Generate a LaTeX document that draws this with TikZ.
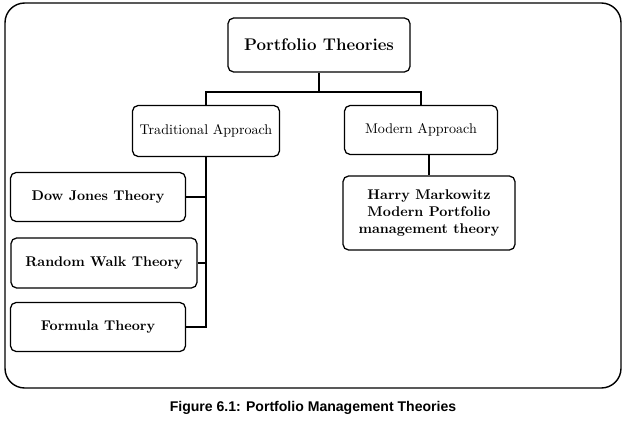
\documentclass[tikz,border=0pt]{standalone}
\usepackage{fontspec}
\newfontfamily\capfont{Liberation Sans}
\usetikzlibrary{positioning}
\tikzset{
  box/.style={draw, line width=0.9pt, rounded corners=4pt, align=center, inner sep=0pt},
  link/.style={line width=1.6pt}
}
\begin{document}
\begin{tikzpicture}[x=0.025cm, y=-0.025cm]
   \useasboundingbox (0,0) rectangle (624,421);
   \draw[line width=1pt, rounded corners=14pt] (5,3) rectangle (621,388);

   \node[box, minimum width=182*0.025cm, minimum height=54*0.025cm, font=\large\bfseries] (top) at (319,45) {Portfolio Theories};
   \node[box, minimum width=147*0.025cm, minimum height=51*0.025cm] (trad) at (206,131) {Traditional Approach};
   \node[box, minimum width=153*0.025cm, minimum height=49*0.025cm] (mod) at (421,130) {Modern Approach};
   \node[box, minimum width=172*0.025cm, minimum height=74*0.025cm, font=\bfseries] (harry) at (429,213) {Harry Markowitz\\Modern Portfolio\\management theory};
   \node[box, minimum width=175*0.025cm, minimum height=49*0.025cm, font=\bfseries] (dow) at (98,197) {Dow Jones Theory};
   \node[box, minimum width=186*0.025cm, minimum height=50*0.025cm, font=\bfseries] (walk) at (104,263) {Random Walk Theory};
   \node[box, minimum width=175*0.025cm, minimum height=49*0.025cm, font=\bfseries] (formula) at (98,327) {Formula Theory};

   \coordinate (split) at (319,92);
   \draw[link] (top.south) -- (split);
   \draw[link] (trad.north) |- (split) -| (mod.north);
   \draw[link] (trad.south) -- (trad.south |- formula.east) -- (formula.east);
   \draw[link] (trad.south |- dow.east) -- (dow.east);
   \draw[link] (trad.south |- walk.east) -- (walk.east);
   \draw[link] (mod.south -| harry.north) -- (harry.north);

   \node[font=\capfont\bfseries] (caption) at (313,408) {Figure 6.1: Portfolio Management Theories};
\end{tikzpicture}
\end{document}
